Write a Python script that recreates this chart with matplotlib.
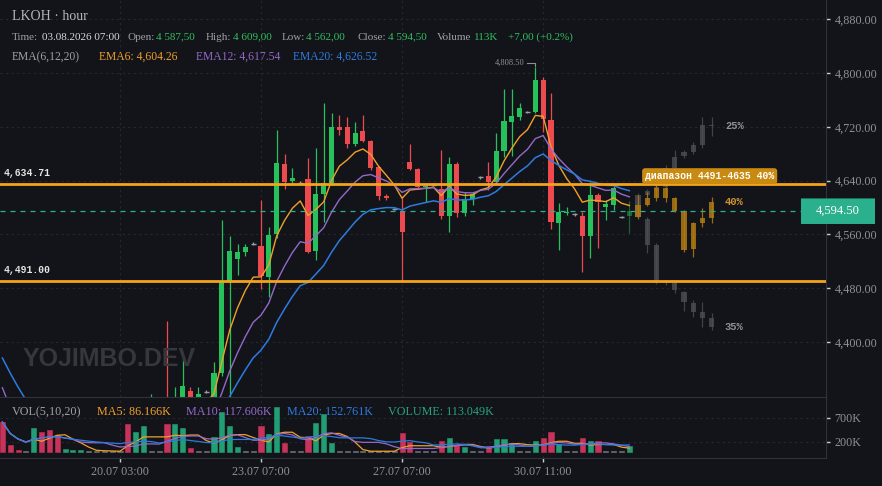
import matplotlib
matplotlib.use("Agg")
import matplotlib.pyplot as plt
import matplotlib.transforms as mtransforms
from matplotlib.patches import FancyBboxPatch
import numpy as np
import pandas as pd

# ---- данные: часовые свечи LKOH ----
opens = [4200, 4150, 4140, 4135, 4135, 4170, 4160, 4150, 4140, 4150,
         4160, 4168, 4168, 4170, 4170, 4172, 4172, 4140, 4200, 4285,
         4305, 4305, 4280, 4305, 4327, 4310, 4326, 4315, 4354, 4489,
         4523, 4534, 4546, 4543, 4497, 4561, 4665, 4639, 4637, 4642,
         4535, 4620, 4636, 4720, 4720, 4694, 4714, 4699, 4660, 4617,
         4598, 4595, 4668, 4657, 4630, 4634, 4628, 4587, 4665, 4592,
         4613, 4645, 4647, 4638, 4684, 4727, 4735, 4742, 4742, 4790,
         4730, 4577, 4592, 4590, 4587, 4558, 4619, 4601, 4604, 4586, 4587.5]
highs = [4215, 4160, 4150, 4140, 4180, 4178, 4165, 4155, 4155, 4163,
         4170, 4170, 4172, 4172, 4174, 4174, 4178, 4205, 4290, 4323,
         4312, 4431, 4333, 4378, 4333, 4333, 4328, 4370, 4581, 4558,
         4546, 4546, 4548, 4611, 4571, 4715, 4680, 4659, 4639, 4674,
         4688, 4755, 4741, 4738, 4735, 4727, 4738, 4701, 4662, 4620,
         4600, 4614, 4694, 4659, 4633, 4636, 4685, 4675, 4667, 4623,
         4623, 4647, 4668, 4711, 4776, 4776, 4755, 4744, 4808.5, 4794,
         4770, 4607, 4601, 4592, 4593, 4638, 4622, 4611, 4632, 4588, 4609]
lows = [4140, 4130, 4128, 4130, 4130, 4155, 4145, 4135, 4138, 4148,
        4158, 4166, 4166, 4168, 4168, 4170, 4135, 4138, 4195, 4280,
        4300, 4270, 4275, 4300, 4300, 4305, 4324, 4305, 4350, 4310,
        4500, 4528, 4544, 4479, 4467, 4555, 4628, 4636, 4635, 4532,
        4522, 4578, 4634, 4708, 4688, 4692, 4697, 4656, 4611, 4611,
        4596, 4489, 4656, 4628, 4608, 4632, 4583, 4564, 4586, 4587,
        4604, 4643, 4626, 4636, 4675, 4677, 4730, 4740, 4740, 4712,
        4568, 4537, 4589, 4588, 4504, 4525, 4540, 4581, 4596, 4584, 4562]
closes = [4150, 4140, 4135, 4135, 4170, 4160, 4150, 4140, 4150, 4160,
          4168, 4168, 4170, 4170, 4172, 4172, 4140, 4200, 4285, 4305,
          4305, 4280, 4310, 4335, 4310, 4323, 4326, 4354, 4489, 4535,
          4534, 4541, 4546, 4498, 4559, 4666, 4638, 4644, 4637, 4534,
          4620, 4636, 4720, 4715, 4694, 4711, 4699, 4659, 4617, 4614,
          4598, 4564, 4657, 4630, 4632, 4634, 4587, 4665, 4592, 4613,
          4620, 4645, 4638, 4684, 4729, 4736, 4748, 4742, 4790, 4732,
          4578, 4593, 4594, 4590, 4558, 4619, 4608, 4605, 4629, 4586, 4594.5]
volumes = [610, 138, 35, 10, 487, 405, 446, 343, 55, 35,
           35, 10, 10, 10, 10, 10, 569, 405, 528, 10,
           10, 569, 569, 487, 76, 10, 10, 302, 815, 528,
           97, 10, 10, 528, 363, 918, 179, 10, 10, 322,
           589, 774, 179, 10, 10, 10, 10, 10, 10, 10,
           10, 384, 200, 10, 10, 10, 220, 281, 138, 97,
           10, 10, 117, 261, 261, 179, 10, 10, 220, 281,
           405, 158, 10, 10, 281, 220, 220, 10, 10, 10, 113]  # тыс.

# значения EMA до первой свечи окна
ema_seeds = {6: 4250, 12: 4365, 20: 4400}

tick_pos = [15, 33, 51, 69]
tick_labels = ["20.07 03:00", "23.07 07:00", "27.07 07:00", "30.07 11:00"]

level_hi = 4634.71
level_lo = 4491.00
last_price = 4594.50

# сценарии прогноза
up_open = [4586, 4619, 4624, 4630, 4659, 4677, 4683, 4693, 4723]
up_close = [4619, 4624, 4630, 4659, 4675, 4683, 4693, 4723, 4721]
up_high = [4622, 4628, 4634, 4663, 4686, 4686, 4697, 4735, 4735]
up_low = [4583, 4615, 4621, 4626, 4656, 4674, 4680, 4689, 4706]
mid_open = [4586, 4604, 4614, 4629, 4614, 4595, 4538, 4577, 4584]
mid_close = [4604, 4614, 4629, 4614, 4595, 4537, 4577, 4584, 4608]
mid_high = [4619, 4623, 4633, 4630, 4616, 4597, 4579, 4599, 4616]
mid_low = [4584, 4602, 4610, 4608, 4593, 4534, 4527, 4571, 4577]
dn_open = [4594, 4583, 4544, 4488, 4488, 4474, 4458, 4445, 4436]
dn_close = [4586, 4544, 4489, 4488, 4477, 4459, 4445, 4436, 4422]
dn_high = [4597, 4586, 4547, 4492, 4492, 4476, 4462, 4459, 4443]
dn_low = [4583, 4532, 4486, 4485, 4473, 4446, 4437, 4422, 4418]
scenario_pct = ["25%", "40%", "35%"]

# ---- оформление ----
BG = "#131419"
GRID = "#262830"
TXT = "#8c9099"
GREEN = "#27c15c"
RED = "#ec4a4f"
DOJI = "#9a9ca3"
VGREEN = "#229e74"
VRED = "#c7335a"
C6, C12, C20 = "#f0a02a", "#9469c9", "#2d7be0"
LEVEL = "#f5a31a"
TEAL = "#2bb08e"

plt.rcParams["font.family"] = ["Liberation Serif", "DejaVu Serif"]

W, H = 882, 486
fig = plt.figure(figsize=(W / 100, H / 100), dpi=100, facecolor=BG)
ax = fig.add_axes([0, 1 - 397 / H, 826 / W, 397 / H], facecolor=BG)
vax = fig.add_axes([0, 1 - 458 / H, 826 / W, 61 / H], facecolor=BG, sharex=ax)

n = len(closes)
x = np.arange(n)
o = np.array(opens, float)
c = np.array(closes, float)
hi = np.array(highs, float)
lo = np.array(lows, float)
bw = 0.65

def ema(values, span, seed):
    a = 2 / (span + 1)
    e = seed
    out = []
    for v in values:
        e += a * (v - e)
        out.append(e)
    return np.array(out)

# сетка
for p in range(4400, 4881, 80):
    ax.axhline(p, color=GRID, lw=0.8, ls=(0, (2, 3)), zorder=0)
for t in tick_pos:
    ax.axvline(t, color=GRID, lw=0.8, ls=(0, (2, 3)), zorder=0)
    vax.axvline(t, color=GRID, lw=0.8, ls=(0, (2, 3)), zorder=0)

fig.text(23 / W, 1 - 359 / H, "YOJIMBO.DEV", color="#36373d", fontsize=18,
         fontweight="bold", family="Liberation Sans", va="center", zorder=0)

# свечи
doji = np.abs(c - o) < 1
up = (c > o) & ~doji
dn = (c < o) & ~doji
cols = np.where(up, GREEN, np.where(dn, RED, DOJI))
alphas = np.ones(n)
alphas[-1] = 0.45
for i in range(n):
    ax.vlines(x[i], lo[i], hi[i], color=cols[i], lw=0.9, alpha=alphas[i], zorder=2)
    if doji[i]:
        ax.hlines(c[i], x[i] - bw / 2, x[i] + bw / 2, color=DOJI, lw=1, zorder=3)
    else:
        ax.bar(x[i], abs(c[i] - o[i]), bottom=min(o[i], c[i]), width=bw,
               color=cols[i], alpha=alphas[i], lw=0, zorder=3)

# EMA
ax.plot(x, ema(c, 6, ema_seeds[6]), color=C6, lw=1, zorder=4)
ax.plot(x, ema(c, 12, ema_seeds[12]), color=C12, lw=1, zorder=4)
ax.plot(x, ema(c, 20, ema_seeds[20]), color=C20, lw=1.1, zorder=4)

# прогноз
px = x[-1] + 1.1 + 1.175 * np.arange(len(up_open))
def proj(op, cl, h, l, color, alpha, z):
    for k in range(len(op)):
        ax.vlines(px[k], l[k], h[k], color=color, lw=0.9, alpha=alpha, zorder=z)
        ax.bar(px[k], max(abs(cl[k] - op[k]), 1.2), bottom=min(op[k], cl[k]),
               width=bw, color=color, alpha=alpha, lw=0, zorder=z)
proj(dn_open, dn_close, dn_high, dn_low, "#4c4e54", 0.8, 2)
proj(up_open, up_close, up_high, up_low, "#4c4e54", 0.8, 2)
proj(mid_open, mid_close, mid_high, mid_low, "#b07a12", 0.85, 3)

lab_x = px[-1] + 1.7
for yv, s, col in [(up_close[-1], scenario_pct[0], "#8e9096"),
                   (mid_close[-1], scenario_pct[1], "#cf9530"),
                   (dn_close[-1], scenario_pct[2], "#8e9096")]:
    ax.text(lab_x, yv, s, color=col, fontsize=7.5, fontweight="bold",
            family="Liberation Mono", va="center", ha="left", zorder=6)

# уровни
for lv in (level_hi, level_lo):
    ax.axhline(lv, color=LEVEL, lw=2, zorder=5)
    ax.annotate(f"{lv:,.2f}", xy=(0, lv), xycoords=("axes fraction", "data"),
                xytext=(4, 6), textcoords="offset pixels", color="#e6e6e6",
                fontsize=7, fontweight="bold", family="Liberation Mono",
                va="bottom", ha="left", zorder=6)
ax.text(px[0] + 0.9, level_hi + 12,
        f"диапазон {level_lo:.0f}-{level_hi:.0f} {scenario_pct[1]}",
        color="white", fontsize=7, fontweight="bold", family="Liberation Mono",
        va="center", ha="left", zorder=7,
        bbox=dict(boxstyle="round,pad=0.3,rounding_size=0.3", fc="#c98a12", ec="none"))

# текущая цена
ax.axhline(last_price, color=TEAL, lw=0.9, ls=(0, (4, 4)), zorder=4)
bt = mtransforms.blended_transform_factory(fig.transFigure, ax.transData)
fig.add_artist(FancyBboxPatch((801 / W, last_price - 19), 74 / W, 38,
                              boxstyle="round,pad=0,rounding_size=0.004",
                              transform=bt, fc=TEAL, ec="none", clip_on=False))
fig.text(838 / W, 0, f"{last_price:,.2f}", transform=bt, color="white",
         fontsize=9, ha="center", va="center").set_y(last_price)

# максимум
imax = int(np.argmax(hi))
ax.text(imax - 1.4, hi[imax] + 7, f"{hi[imax]:,.2f}", color=TXT, fontsize=6,
        ha="right", va="center", zorder=6)
ax.plot([imax - 1.1, imax - 0.05, imax - 0.05], [hi[imax] + 7, hi[imax] + 7, hi[imax] + 2],
        color=TXT, lw=0.8, zorder=6)

# оси цены
ax.set_xlim((0 - 2.4) / 7.837, (826 - 2.4) / 7.837)
ax.set_ylim(4318.2, 4908.6)
ax.yaxis.tick_right()
ax.set_yticks(range(4400, 4881, 80))
ax.set_yticklabels([f"{p:,.2f}" for p in range(4400, 4881, 80)])
ax.tick_params(axis="y", colors="#c9ccd2", labelcolor=TXT, labelsize=8.7,
               length=3, width=1, pad=3)
ax.tick_params(axis="x", bottom=False, labelbottom=False)
for s in ("top", "left", "bottom"):
    ax.spines[s].set_visible(False)
ax.spines["right"].set_color("#30323a")

# объём
vcols = np.where(up, VGREEN, np.where(dn, VRED, VGREEN))
vcols = np.where(np.array(volumes) <= 12, "#74777e", vcols)
vax.bar(x, volumes, width=bw, color=vcols, edgecolor=vcols, lw=0.4, zorder=2)
vs = pd.Series(volumes, dtype=float)
vax.plot(x, vs.rolling(5, min_periods=1).mean(), color=C6, lw=0.9, zorder=3)
vax.plot(x, vs.rolling(10, min_periods=1).mean(), color=C12, lw=0.9, zorder=3)
vax.plot(x, vs.rolling(20, min_periods=1).mean(), color=C20, lw=0.9, zorder=3)
for lvv in (200, 700):
    vax.axhline(lvv, color=GRID, lw=0.8, ls=(0, (2, 3)), zorder=0)
vax.set_ylim(-129, 1123)
vax.yaxis.tick_right()
vax.set_yticks([200, 700])
vax.set_yticklabels(["200K", "700K"])
vax.tick_params(axis="y", colors="#c9ccd2", labelcolor=TXT, labelsize=8.7,
                length=3, width=1, pad=3)
vax.set_xticks(tick_pos)
vax.set_xticklabels(tick_labels)
vax.tick_params(axis="x", colors="#c9ccd2", labelcolor=TXT, labelsize=8.7,
                length=3, width=1, pad=3)
vax.spines["left"].set_visible(False)
for s in ("top", "bottom", "right"):
    vax.spines[s].set_color("#30323a")

# шапка
def seg(px_x, px_y, s, color, size=8.0, **kw):
    fig.text(px_x / W, 1 - px_y / H, s, color=color, fontsize=size, va="center", **kw)

LBL = "#9da1a8"
VAL = "#2fbf5f"
seg(12, 16, "LKOH · hour", "#b4b7bd", size=10)
row2 = [(12, "Time:", LBL), (42, "03.08.2026 07:00", "#d6d8dc"),
        (127, "Open:", LBL), (156, "4 587,50", VAL),
        (206, "High:", LBL), (233, "4 609,00", VAL),
        (282, "Low:", LBL), (306, "4 562,00", VAL),
        (357, "Close:", LBL), (388, "4 594,50", VAL),
        (437, "Volume", LBL), (474, "113K", VAL),
        (508, "+7,00 (+0.2%)", VAL)]
for px_x, s, col in row2:
    seg(px_x, 37, s, col)
row3 = [(12, "EMA(6,12,20)", LBL), (99, "EMA6: 4,604.26", C6),
        (196, "EMA12: 4,617.54", C12), (293, "EMA20: 4,626.52", C20)]
for px_x, s, col in row3:
    seg(px_x, 57, s, col, size=8.4)
row4 = [(12, "VOL(5,10,20)", LBL), (97, "MA5: 86.166K", C6),
        (186, "MA10: 117.606K", C12), (287, "MA20: 152.761K", C20),
        (388, "VOLUME: 113.049K", "#27a37c")]
for px_x, s, col in row4:
    seg(px_x, 412, s, col, size=8.7)

fig.savefig("out.png", dpi=100, facecolor=BG)
